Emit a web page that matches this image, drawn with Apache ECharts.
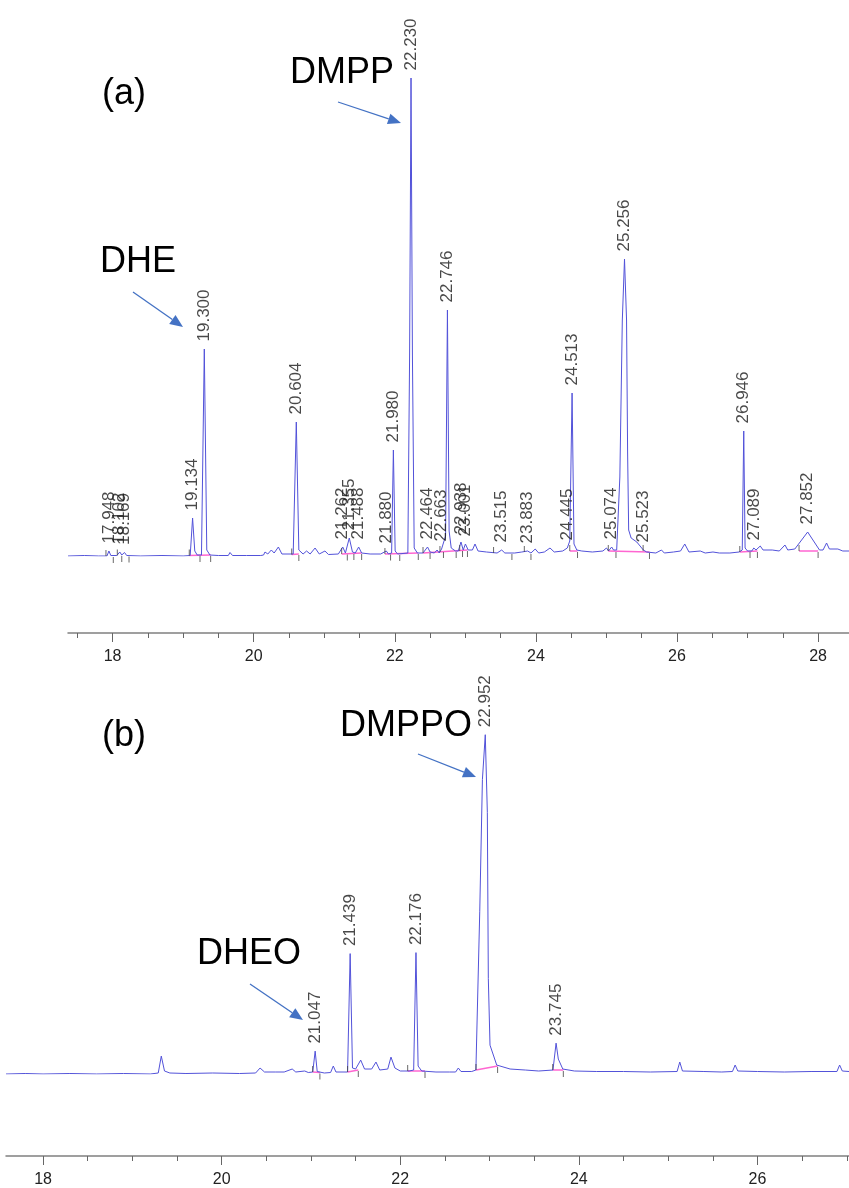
<!DOCTYPE html>
<html>
<head>
<meta charset="utf-8">
<title>GC chromatograms (a) and (b)</title>
<script src="https://cdn.jsdelivr.net/npm/echarts@6/dist/echarts.min.js"></script>
<style>
  html, body { margin: 0; padding: 0; background: #fff; }
  #chart { width: 849px; height: 1188px; }
</style>
</head>
<body>
<div id="chart"></div>
<script>
// ---- data: [retention time (min), signal (a.u.)] ----
// chromatogram (a)
const traceA = [
  [17.368, 0], [17.60, 0.5], [17.80, 0], [17.92, 0], [17.948, 5], [17.975, 0.5],
  [18.06, 0.5], [18.102, 4], [18.13, 1], [18.169, 3.5], [18.20, 0.5],
  [18.40, 0], [18.70, 0.5], [19.00, 0], [19.10, 0.5], [19.134, 38], [19.165, 5], [19.20, 1],
  [19.26, 1], [19.300, 207], [19.335, 6], [19.38, 1], [19.50, 0.5], [19.64, 0.5], [19.664, 3.5],
  [19.70, 0.5], [19.90, 0.5], [20.10, 0.5], [20.14, 1], [20.16, 4], [20.20, 2], [20.25, 6],
  [20.29, 3], [20.35, 9], [20.40, 2], [20.56, 2], [20.604, 134], [20.64, 6], [20.70, 2],
  [20.75, 5], [20.80, 2], [20.87, 8], [20.93, 2], [21.01, 5], [21.06, 1.5], [21.20, 2],
  [21.262, 9], [21.30, 3], [21.355, 18], [21.40, 4], [21.44, 3], [21.488, 9], [21.53, 3],
  [21.65, 2], [21.80, 2], [21.880, 5], [21.91, 2], [21.955, 3], [21.980, 106], [22.005, 5],
  [22.04, 2], [22.185, 3], [22.21, 200], [22.230, 478], [22.25, 200], [22.275, 8], [22.32, 3],
  [22.40, 3], [22.464, 9], [22.50, 4], [22.56, 3], [22.60, 6], [22.63, 3], [22.663, 7],
  [22.69, 5], [22.72, 20], [22.746, 246], [22.77, 25], [22.80, 8], [22.86, 5], [22.90, 5],
  [22.938, 14], [22.97, 6], [23.001, 12], [23.04, 6], [23.10, 6], [23.137, 12], [23.18, 5],
  [23.30, 4], [23.45, 3], [23.515, 6], [23.56, 3], [23.70, 3], [23.80, 4], [23.883, 5],
  [23.93, 3], [23.99, 7], [24.04, 3], [24.12, 4], [24.20, 8], [24.26, 4], [24.38, 5],
  [24.445, 8], [24.48, 15], [24.513, 163], [24.54, 12], [24.58, 6], [24.65, 5], [24.80, 4],
  [24.95, 5], [25.00, 8], [25.03, 5], [25.074, 9], [25.10, 6], [25.145, 6], [25.19, 79],
  [25.225, 236], [25.256, 297], [25.285, 236], [25.30, 103], [25.315, 26], [25.35, 18],
  [25.43, 14], [25.523, 6], [25.57, 4], [25.70, 3], [25.78, 6], [25.82, 3], [25.95, 4],
  [26.05, 5], [26.11, 12], [26.17, 4], [26.33, 5], [26.40, 3], [26.51, 4], [26.60, 3],
  [26.75, 3], [26.88, 4], [26.925, 6], [26.946, 125], [26.965, 8], [27.00, 5], [27.06, 5],
  [27.089, 8], [27.12, 6], [27.18, 10], [27.22, 6], [27.35, 6], [27.45, 5], [27.53, 11],
  [27.57, 6], [27.67, 7], [27.852, 24], [28.02, 6], [28.07, 6], [28.12, 13], [28.16, 7],
  [28.28, 7], [28.35, 5], [28.438, 5]
]
const peakRtA = [17.948, 18.102, 18.169, 19.134, 19.300, 20.604, 21.262, 21.355, 21.488,
  21.880, 21.980, 22.230, 22.464, 22.663, 22.746, 22.938, 23.001, 23.515, 23.883, 24.445,
  24.513, 25.074, 25.256, 25.523, 26.946, 27.089, 27.852]
const peakHA = [5, 4, 3.5, 38, 207, 134, 9, 18, 9,
  5, 106, 478, 9, 7, 246, 14, 12, 6, 5, 8,
  163, 9, 297, 6, 125, 8, 24]
// integration events (peak start marks above the baseline, end marks below it)
const startMarksA = [[17.906, 0], [18.067, 0.5], [19.087, 0.5], [20.539, 1.5], [21.247, 2],
  [21.86, 2], [22.40, 3], [22.64, 4], [22.92, 5], [23.40, 3], [23.836, 4], [24.48, 5],
  [25.026, 5], [25.52, 5], [26.89, 4], [27.73, 5]]
const endMarksA = [[18.01, 0], [18.13, 1], [18.233, 0.5], [19.239, 1], [19.39, 1], [20.64, 2],
  [21.327, 2.5], [21.42, 3], [21.53, 3], [21.94, 2.5], [22.07, 2], [22.333, 3], [22.50, 4],
  [22.69, 5], [22.87, 5], [22.96, 6], [23.03, 6], [23.66, 3], [23.93, 3], [24.59, 5],
  [25.135, 5], [25.61, 4], [27.035, 5], [27.14, 5], [28.00, 5]]
// baselines drawn under integrated peaks: [start, level, end, level]
const baselinesA = [[19.087, 0.5, 19.39, 1], [20.539, 1.5, 20.64, 2], [21.247, 2, 21.53, 3],
  [21.86, 2, 22.333, 3], [22.40, 3, 23.03, 6], [24.48, 5, 24.59, 5], [25.026, 5, 25.61, 4],
  [26.89, 4, 27.14, 5], [27.73, 5, 28.00, 5]]

// chromatogram (b)
const traceB = [
  [17.585, 0], [17.80, 0.5], [18.00, 0], [18.30, 0.5], [18.60, 0], [18.90, 0.5], [19.20, 0],
  [19.29, 1], [19.324, 18], [19.36, 3], [19.42, 1], [19.60, 0.5], [19.90, 1], [20.20, 0.5],
  [20.38, 1], [20.43, 6], [20.48, 2], [20.60, 2], [20.70, 2], [20.79, 5], [20.83, 2],
  [20.93, 3], [20.97, 1.5], [21.02, 2], [21.047, 23], [21.07, 2.5], [21.15, 1], [21.22, 1.5],
  [21.25, 8], [21.28, 2], [21.41, 2], [21.439, 121], [21.465, 6], [21.50, 5], [21.557, 14],
  [21.60, 5], [21.68, 5], [21.728, 12], [21.77, 4], [21.86, 5], [21.896, 17], [21.94, 6],
  [21.96, 8], [22.00, 3], [22.10, 3], [22.15, 4], [22.176, 122], [22.20, 8], [22.24, 3],
  [22.40, 2], [22.55, 2], [22.62, 2], [22.65, 6], [22.68, 2.5], [22.80, 2.5], [22.847, 4],
  [22.89, 163], [22.92, 296], [22.952, 341], [22.975, 263], [22.986, 96], [23.005, 29],
  [23.08, 9], [23.23, 5], [23.40, 4], [23.55, 3], [23.71, 4], [23.745, 31], [23.77, 15],
  [23.82, 5], [23.95, 3], [24.20, 2.5], [24.50, 2.5], [24.80, 2], [25.10, 2.5], [25.13, 12],
  [25.16, 3], [25.40, 2.5], [25.60, 2], [25.72, 2.5], [25.75, 9], [25.78, 3], [26.00, 2.5],
  [26.30, 2], [26.60, 2.5], [26.89, 2.5], [26.92, 9], [26.95, 3], [27.025, 2.5]
]
const peakRtB = [21.047, 21.439, 22.176, 22.952, 23.745]
const peakHB = [23, 121, 122, 341, 31]
const startMarksB = [[21.019, 2], [21.41, 2], [22.083, 3], [22.848, 4], [23.707, 4]]
const endMarksB = [[21.10, 1.5], [21.53, 4], [22.277, 3], [23.09, 8], [23.826, 4]]
const baselinesB = [[21.019, 2, 21.10, 1.5], [21.41, 2, 21.53, 4], [22.083, 3, 22.277, 3],
  [22.848, 4, 23.09, 8], [23.707, 4, 23.826, 4]]

// axis ticks (min)
const majorTicksA = [18, 20, 22, 24, 26, 28]
const minorTicksA = [17.5, 18.5, 19, 19.5, 20.5, 21, 21.5, 22.5, 23, 23.5, 24.5, 25, 25.5, 26.5, 27, 27.5]
const majorTicksB = [18, 20, 22, 24, 26]
const minorTicksB = [18.5, 19, 19.5, 20.5, 21, 21.5, 22.5, 23, 23.5, 24.5, 25, 25.5, 26.5, 27]

const traceColor = '#5252d9'
const arrowColor = '#4472c4'
const sans = "'Liberation Sans', Arial, sans-serif"

const chart = echarts.init(document.getElementById('chart'))

function xAxes (grid, min, max, offset, majors, minors) {
  const base = {
    type: 'value', gridIndex: grid, min: min, max: max, position: 'bottom', offset: offset,
    splitLine: { show: false }
  }
  return [
    Object.assign({}, base, {
      axisLine: { onZero: false, lineStyle: { color: '#808080', width: 1.5 } },
      axisTick: { customValues: majors, length: 9, lineStyle: { color: '#666' } },
      axisLabel: {
        customValues: majors, margin: 16, color: '#222', fontSize: 16, fontFamily: sans,
        formatter: v => String(Math.round(v))
      }
    }),
    Object.assign({}, base, {
      axisLine: { show: false, onZero: false },
      axisTick: { customValues: minors, length: 5, lineStyle: { color: '#666' } },
      axisLabel: { show: false }
    })
  ]
}

function labelSeries (xi, yi, rts, hs) {
  return {
    type: 'scatter',
    xAxisIndex: xi,
    yAxisIndex: yi,
    data: rts.map((t, i) => [t, hs[i]]),
    symbolSize: 1,
    itemStyle: { color: 'rgba(0,0,0,0)' },
    silent: true,
    z: 4,
    label: {
      show: true,
      position: 'top',
      distance: 7,
      rotate: 90,
      align: 'left',
      verticalAlign: 'middle',
      color: '#1a1a1a',
      fontSize: 17,
      fontFamily: sans,
      formatter: p => p.value[0].toFixed(3)
    }
  }
}

function markSeries (xi, yi, data, dy) {
  return {
    type: 'scatter',
    xAxisIndex: xi,
    yAxisIndex: yi,
    data: data,
    symbol: 'rect',
    symbolSize: [1, 6],
    symbolOffset: [0, dy],
    itemStyle: { color: '#444' },
    silent: true,
    z: 3
  }
}

function baselineSeries (xi, yi, segs) {
  return {
    type: 'lines',
    coordinateSystem: 'cartesian2d',
    xAxisIndex: xi,
    yAxisIndex: yi,
    data: segs.map(s => ({ coords: [[s[0], s[1]], [s[2], s[3]]] })),
    lineStyle: { color: '#ff55cc', width: 1.5, opacity: 0.9 },
    silent: true,
    z: 1
  }
}

function traceSeries (xi, yi, data) {
  return {
    type: 'line', xAxisIndex: xi, yAxisIndex: yi, data: data, symbol: 'none',
    lineStyle: { color: traceColor, width: 1 }, silent: true, z: 2
  }
}

function arrow (tail, tip) {
  const dx = tip[0] - tail[0]
  const dy = tip[1] - tail[1]
  const len = Math.sqrt(dx * dx + dy * dy)
  const ux = dx / len
  const uy = dy / len
  const headL = 13
  const headW = 5.5
  const bx = tip[0] - ux * headL
  const by = tip[1] - uy * headL
  return {
    type: 'group',
    children: [
      {
        type: 'line',
        shape: { x1: tail[0], y1: tail[1], x2: bx, y2: by },
        style: { stroke: arrowColor, lineWidth: 1.3 }
      },
      {
        type: 'polygon',
        shape: { points: [tip, [bx - uy * headW, by + ux * headW], [bx + uy * headW, by - ux * headW]] },
        style: { fill: arrowColor }
      }
    ]
  }
}

function note (text, x, y) {
  return {
    type: 'text',
    style: { text: text, x: x, y: y, font: '36px ' + sans, fill: '#000', verticalAlign: 'middle' }
  }
}

const option = {
  animation: false,
  backgroundColor: '#fff',
  grid: [
    { left: 68, right: 0, top: 56, height: 500 },
    { left: 6, right: 0, top: 676, height: 400 }
  ],
  xAxis: [].concat(
    xAxes(0, 17.368, 28.438, 77, majorTicksA, minorTicksA),
    xAxes(1, 17.585, 27.025, 82, majorTicksB, minorTicksB)
  ),
  yAxis: [
    { type: 'value', gridIndex: 0, min: 0, max: 500, show: false },
    { type: 'value', gridIndex: 1, min: 0, max: 400, show: false }
  ],
  series: [
    baselineSeries(0, 0, baselinesA),
    baselineSeries(2, 1, baselinesB),
    traceSeries(0, 0, traceA),
    traceSeries(2, 1, traceB),
    markSeries(0, 0, startMarksA, -3),
    markSeries(0, 0, endMarksA, 4),
    markSeries(2, 1, startMarksB, -3),
    markSeries(2, 1, endMarksB, 4),
    labelSeries(0, 0, peakRtA, peakHA),
    labelSeries(2, 1, peakRtB, peakHB)
  ],
  graphic: [
    note('(a)', 102, 94),
    note('DMPP', 290, 73),
    note('DHE', 100, 262),
    note('(b)', 102, 736),
    note('DMPPO', 340, 726),
    note('DHEO', 197, 954),
    arrow([338, 102], [401, 123]),
    arrow([133, 292], [183, 327]),
    arrow([418, 754], [476, 777]),
    arrow([250, 984], [303, 1020])
  ]
}

chart.setOption(option)
</script>
</body>
</html>
